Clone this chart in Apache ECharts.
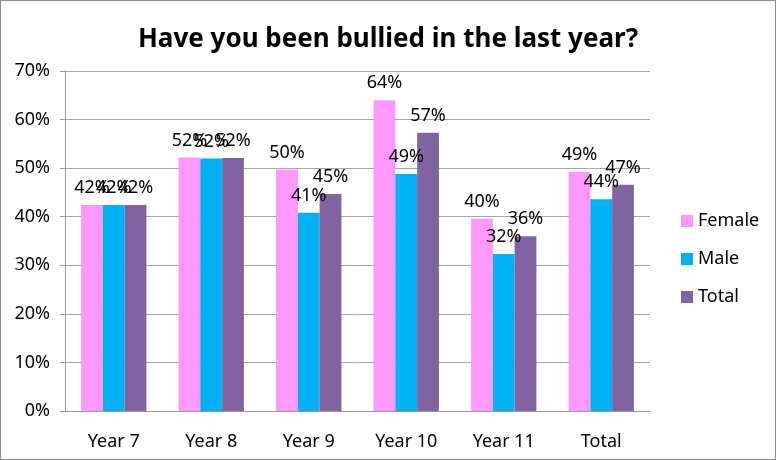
<!DOCTYPE html>
<html>
<head>
<meta charset="utf-8">
<script src="https://cdn.jsdelivr.net/npm/echarts@6/dist/echarts.min.js"></script>
<style>
  html, body { margin: 0; padding: 0; background: #fff; }
  #chart { width: 776px; height: 460px; box-sizing: border-box; border: 1px solid #8c8c8c; }
</style>
</head>
<body>
<div id="chart"></div>
<script>
let categories = ["Year 7", "Year 8", "Year 9", "Year 10", "Year 11", "Total"];
let female = [42.4, 52.2, 49.7, 64.0, 39.6, 49.2];
let male = [42.4, 52.0, 40.8, 48.8, 32.3, 43.6];
let total = [42.4, 52.1, 44.7, 57.3, 36.0, 46.6];
let color = ["#FF99FF", "#00B0F0", "#8064A2"];
let font = "'Noto Sans', sans-serif";

let barLabel = {
    show: true,
    position: "top",
    distance: 8,
    color: "#000",
    fontSize: 18,
    fontFamily: font,
    formatter: p => Math.round(p.value) + "%"
};

let option = {
    animation: false,
    color: color,
    title: {
        text: "Have you been bullied in the last year?",
        left: "center",
        top: 21,
        textStyle: {
            fontSize: 26,
            fontWeight: "bold",
            fontFamily: font,
            color: "#000"
        }
    },
    legend: {
        orient: "vertical",
        left: 675,
        top: 206,
        itemWidth: 12,
        itemHeight: 12,
        itemGap: 20,
        icon: "rect",
        textStyle: { fontSize: 18, fontFamily: font, color: "#000" }
    },
    grid: { left: 64, right: 125, top: 70, bottom: 48 },
    xAxis: {
        type: "category",
        data: categories,
        axisLine: { lineStyle: { color: "#999" } },
        axisTick: { show: false },
        axisLabel: { fontSize: 18, fontFamily: font, color: "#000", margin: 22 }
    },
    yAxis: {
        type: "value",
        min: 0,
        max: 70,
        interval: 10,
        axisLine: { show: true, lineStyle: { color: "#999" } },
        axisTick: { show: true, length: 5, lineStyle: { color: "#999" } },
        splitLine: { lineStyle: { color: "#a6a6a6" } },
        axisLabel: {
            fontSize: 18, fontFamily: font, color: "#000", margin: 15,
            formatter: "{value}%"
        }
    },
    series: [
        { name: "Female", type: "bar", data: female, barGap: "0%", barCategoryGap: "33%", label: barLabel },
        { name: "Male", type: "bar", data: male, label: barLabel },
        { name: "Total", type: "bar", data: total, label: barLabel }
    ]
};

let chart = echarts.init(document.getElementById("chart"));
chart.setOption(option);
</script>
</body>
</html>
